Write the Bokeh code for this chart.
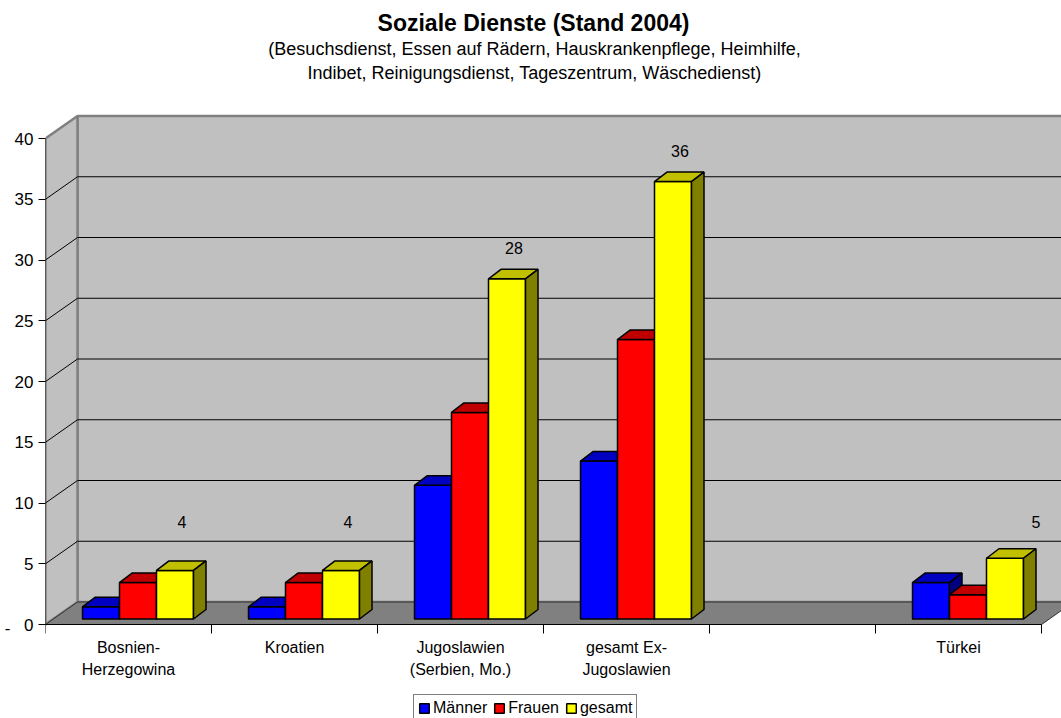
from bokeh.plotting import figure
from bokeh.models import Range1d, FixedTicker, Label, Legend, LegendItem, LinearAxis
from bokeh.core.properties import value
from bokeh.embed import file_html
from bokeh.resources import INLINE

# ---- data -------------------------------------------------------------
categories = ["Bosnien-\nHerzegowina", "Kroatien", "Jugoslawien\n(Serbien, Mo.)",
              "gesamt Ex-\nJugoslawien", "", "Türkei"]
maenner = [1, 1, 11, 13, None, 3]
frauen = [3, 3, 17, 23, None, 2]
gesamt = [4, 4, 28, 36, None, 5]
y_ticks = [0, 5, 10, 15, 20, 25, 30, 35, 40]

title = "Soziale Dienste (Stand 2004)"
subtitle = ["(Besuchsdienst, Essen auf Rädern, Hauskrankenpflege, Heimhilfe,",
            "Indibet, Reinigungsdienst, Tageszentrum, Wäschedienst)"]

# ---- layout -----------------------------------------------------------
W, H = 1061, 718
LEFT = 45            # width of the y-axis panel
PX_CAT = 166.0       # pixels per category slot
PX_UNIT = 12.15      # pixels per value unit
ZERO_PX = 624        # vertical pixel position of the front zero line
FONT = "Liberation Sans"


def dx(px):
    return px / PX_CAT


def dy(px):
    return px / PX_UNIT


N = len(categories)
YMAX = y_ticks[-1]
WDX, WDY = dx(32), dy(22.5)     # depth of walls / floor
BDX, BDY = dx(8), dy(5.5)       # front plane of the columns
DDX, DDY = dx(12.5), dy(9.5)    # depth of a column
BW = dx(37)                     # column width
SHIFT = dx(1.5)

p = figure(width=W, height=H, output_backend="svg", toolbar_location=None,
           x_range=Range1d(0, (W - LEFT) / PX_CAT),
           y_range=Range1d(-(H - ZERO_PX) / PX_UNIT, ZERO_PX / PX_UNIT),
           x_axis_location=None, min_border_left=LEFT, min_border_right=0,
           min_border_top=0, min_border_bottom=0)
p.outline_line_color = None
p.grid.visible = False
p.background_fill_color = "white"
p.border_fill_color = "white"

# y axis (ticks and labels); its line is drawn with the box below
ax = p.yaxis[0]
ax.ticker = FixedTicker(ticks=y_ticks)
ax.axis_line_color = None
ax.major_tick_in = 0
ax.major_tick_out = 7
ax.minor_tick_out = 0
ax.minor_tick_in = 0
ax.major_tick_line_color = "black"
ax.major_label_standoff = 5
ax.major_label_text_font = FONT
ax.major_label_text_font_size = "17px"
ax.major_label_text_color = "black"

# small dash marker just below the zero tick
dash_axis = LinearAxis(ticker=FixedTicker(ticks=[-0.25]),
                       major_label_overrides={-0.25: "-"},
                       axis_line_color=None, major_tick_in=0, major_tick_out=0,
                       minor_tick_in=0, minor_tick_out=0, major_label_standoff=1,
                       major_label_text_font=FONT, major_label_text_font_size="17px",
                       major_label_text_color="black")
p.add_layout(dash_axis, "left")

# ---- walls and floor ---------------------------------------------------
p.patch([WDX, N + WDX, N + WDX, WDX], [WDY, WDY, YMAX + WDY, YMAX + WDY],
        fill_color="#C0C0C0", line_color="#808080", line_width=2.5)
p.patch([0, WDX, WDX, 0], [0, WDY, YMAX + WDY, YMAX],
        fill_color="#C0C0C0", line_color="#808080", line_width=2.5)
p.patch([0, WDX, N + WDX, N], [0, WDY, WDY, 0],
        fill_color="#808080", line_color="#303030", line_width=1)

grid_v = y_ticks[1:-1]
p.segment(x0=[WDX] * len(grid_v), y0=[v + WDY for v in grid_v],
          x1=[N + WDX] * len(grid_v), y1=[v + WDY for v in grid_v],
          line_color="black", line_width=1)
p.segment(x0=[0] * len(grid_v), y0=grid_v,
          x1=[WDX] * len(grid_v), y1=[v + WDY for v in grid_v],
          line_color="black", line_width=1)

# axis lines and category dividers
p.segment(x0=[0], y0=[0], x1=[0], y1=[YMAX], line_color="black", line_width=1)
p.segment(x0=[0], y0=[0], x1=[N], y1=[0], line_color="black", line_width=1)
p.segment(x0=list(range(N + 1)), y0=[0] * (N + 1),
          x1=list(range(N + 1)), y1=[-dy(9)] * (N + 1),
          line_color="black", line_width=1)

# ---- 3D columns --------------------------------------------------------
series = [
    ("Männer", maenner, "#0000FF", "#0000C0", "#000080"),
    ("Frauen", frauen, "#FF0000", "#C00000", "#800000"),
    ("gesamt", gesamt, "#FFFF00", "#C0C000", "#808000"),
]


def column_left(i, s):
    return i + 0.5 - 1.5 * BW + s * BW + BDX + SHIFT


legend_items = []
for s, (name, vals, c_front, c_top, c_side) in enumerate(series):
    fx, fy, tx, ty, sx, sy = [], [], [], [], [], []
    for i, v in enumerate(vals):
        if v is None:
            continue
        xl = column_left(i, s)
        xr = xl + BW
        b, t = BDY, v + BDY
        fx.append([xl, xr, xr, xl])
        fy.append([b, b, t, t])
        tx.append([xl, xr, xr + DDX, xl + DDX])
        ty.append([t, t, t + DDY, t + DDY])
        sx.append([xr, xr + DDX, xr + DDX, xr])
        sy.append([b, b + DDY, t + DDY, t])
    r_front = p.patches(fx, fy, fill_color=c_front, line_color="black", line_width=1.5)
    p.patches(tx, ty, fill_color=c_top, line_color="black", line_width=1.5)
    p.patches(sx, sy, fill_color=c_side, line_color="black", line_width=1.5)
    legend_items.append(LegendItem(label=name, renderers=[r_front]))

# value labels above the "gesamt" columns
LABEL_FLOOR = 5.4
LABEL_GAP = 3.0
NUDGE = {5: dx(24)}
lx, ly, lt = [], [], []
for i, v in enumerate(gesamt):
    if v is None:
        continue
    xc = column_left(i, 2) + 0.5 * BW + dx(7) + NUDGE.get(i, 0)
    lx.append(xc)
    ly.append(max(v, LABEL_FLOOR) + LABEL_GAP)
    lt.append(str(v))
p.text(x=lx, y=ly, text=lt, text_align="center", text_baseline="middle",
       text_font=value(FONT), text_font_size="16px", text_color="black")

# category labels (one or two lines each)
line_y = [-dy(23), -dy(45)]
for k in range(2):
    xs_, ts_ = [], []
    for i, c in enumerate(categories):
        parts = c.split("\n")
        if k < len(parts) and parts[k]:
            xs_.append(i + 0.5)
            ts_.append(parts[k])
    p.text(x=xs_, y=[line_y[k]] * len(xs_), text=ts_, text_align="center",
           text_baseline="middle", text_font=value(FONT), text_font_size="16px",
           text_color="black")

# ---- titles -----------------------------------------------------------
p.add_layout(Label(x=488, y=H - 22, x_units="screen", y_units="screen", text=title,
                   text_align="center", text_baseline="middle", text_font=FONT,
                   text_font_size="23px", text_font_style="bold", text_color="black"))
for k, line in enumerate(subtitle):
    p.add_layout(Label(x=489, y=H - 48 - 24 * k, x_units="screen", y_units="screen",
                       text=line, text_align="center", text_baseline="middle",
                       text_font=FONT, text_font_size="18px", text_color="black"))

# ---- legend -----------------------------------------------------------
legend = Legend(items=legend_items, location=(368, -4), orientation="horizontal",
                border_line_color="black", border_line_width=1,
                background_fill_color="white", background_fill_alpha=1,
                label_text_font=FONT, label_text_font_size="16px",
                label_text_color="black", glyph_width=12, glyph_height=12,
                label_standoff=3, spacing=6, padding=4, margin=0,
                label_height=18)
p.add_layout(legend)

open("out.html", "w").write(file_html(p, INLINE))
